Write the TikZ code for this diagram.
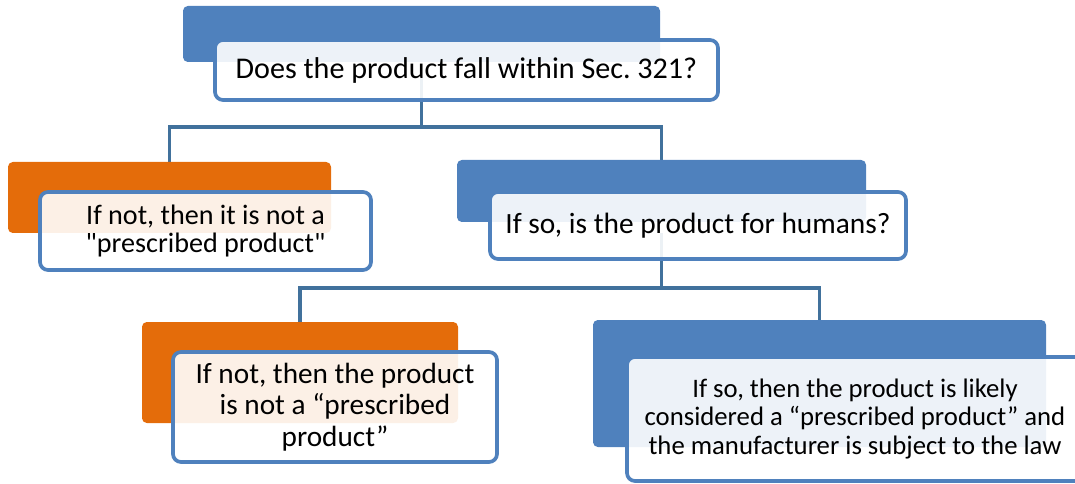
\documentclass[tikz,border=0pt]{standalone}
\usepackage{fontspec}
\setmainfont{Carlito}
\usetikzlibrary{positioning,calc,backgrounds}
\definecolor{kek}{RGB}{79,129,189}
\definecolor{narancs}{RGB}{228,108,10}
\definecolor{vonal}{RGB}{65,113,156}
\newlength\px \setlength\px{0.025cm}
\frenchspacing
\tikzset{
  hat/.style={rectangle,rounded corners=0.12cm,inner sep=0pt},
  lap/.style={draw=kek,line width=2.6pt,rounded corners=0.2cm,fill=white,
    fill opacity=0.9,text opacity=1,align=center,inner sep=0pt},
  ag/.style={draw=vonal,line width=2.8pt},
}
\begin{document}
\begin{tikzpicture}[x=\px,y=-\px,font=\fontsize{20.9}{20.6}\selectfont]
  \useasboundingbox (0,0) rectangle (1075,484);
  % hatso lapok
  \node[hat,fill=kek,minimum width=477\px,minimum height=56\px] (felsoh) at (421.5,34) {};
  \node[hat,fill=narancs,minimum width=323\px,minimum height=71\px] (nemh) at (169.5,197.5) {};
  \node[hat,fill=kek,minimum width=409\px,minimum height=62\px] (igenh) at (661.5,191) {};
  \node[hat,fill=narancs,minimum width=316\px,minimum height=101\px] (nem2h) at (300,372.5) {};
  \node[hat,fill=kek,minimum width=453\px,minimum height=127\px] (igen2h) at (819.5,383.5) {};
  % szoveges lapok
  \node[lap,minimum width=503\px,minimum height=60\px,
    font=\fontsize{21.4}{20.6}\selectfont] (q1) at (466.5,70)
    {Does the product fall within Sec. 321?};
  \node[lap,minimum width=331\px,minimum height=78\px,
    font=\fontsize{20}{20.6}\selectfont] (nem) at (205.5,231)
    {If not, then it is not a\\ \textquotedbl prescribed product\textquotedbl};
  \node[lap,minimum width=416\px,minimum height=67\px] (q2) at (698,225.5)
    {If so, is the product for humans?};
  \node[lap,minimum width=324\px,minimum height=110\px,
    font=\fontsize{20.8}{22.3}\selectfont] (nem2) at (335,407)
    {If not, then the product\\ is not a “prescribed\\ product”};
  \node[lap,minimum width=456\px,minimum height=124\px,
    font=\fontsize{19}{20.6}\selectfont] (igen2) at (855,419)
    {If so, then the product is likely\\ considered a “prescribed product” and\\
     the manufacturer is subject to the law};
  % agak
  \coordinate (e1) at (421.5,127);
  \coordinate (e2) at (661.5,288);
  \begin{scope}[on background layer]
    \draw[ag] (felsoh |- q1.base) -- (e1) (nemh.north) |- (e1) -| (igenh.north);
    \draw[ag] (igenh |- q2.base) -- (e2) (nem2h.north) |- (e2) -| (igen2h.north);
  \end{scope}
\end{tikzpicture}
\end{document}
